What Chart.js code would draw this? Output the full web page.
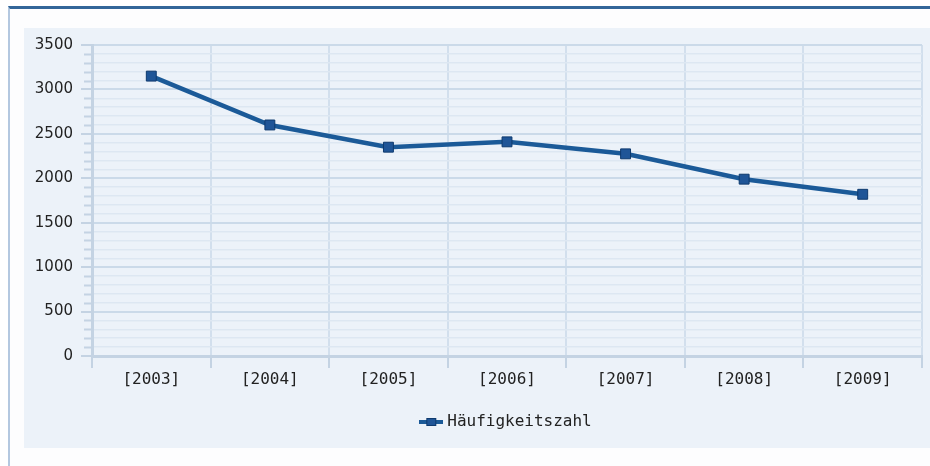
<!DOCTYPE html>
<html>
<head>
<meta charset="utf-8">
<script src="https://cdn.jsdelivr.net/npm/chart.js@4.4.1/dist/chart.umd.min.js"></script>
<style>
    body { margin: 0; background: #fff; width: 930px; height: 466px; overflow: hidden; position: relative; }
    #frame { position: absolute; left: 8px; top: 6px; width: 922px; height: 460px; border-top: 3px solid #336699; border-left: 2px solid #b4c8e0; box-sizing: border-box; background: #fdfdfe; }
    #panel { position: absolute; left: 24px; top: 28px; width: 906px; height: 420px; background: #ecf2f9; }
</style>
</head>
<body>
<div id="frame"></div>
<div id="panel"><canvas id="chart" width="906" height="420"></canvas></div>
<script>
const years = ['[2003]', '[2004]', '[2005]', '[2006]', '[2007]', '[2008]', '[2009]'];
const values = [3150, 2600, 2350, 2410, 2275, 1990, 1820];
const seriesName = 'Häufigkeitszahl';
const yMax = 3500;

const lineColor = '#1b5a98';
const ctx = document.getElementById('chart').getContext('2d');

// legend marker: short line with a square on it
const marker = document.createElement('canvas');
marker.width = 24;
marker.height = 10;
const m = marker.getContext('2d');
m.fillStyle = lineColor;
m.fillRect(0, 3, 24, 4);
m.fillStyle = '#1f5597';
m.strokeStyle = '#0e3a6e';
m.fillRect(7, 1, 10, 8);
m.strokeRect(7.5, 1.5, 9, 7);

// short ticks for the minor y values
const minorTicks = {
    id: 'minorTicks',
    afterDraw(chart) {
        const y = chart.scales.y;
        const c = chart.ctx;
        c.save();
        c.strokeStyle = '#c4d3e3';
        c.lineWidth = 2;
        y.ticks.forEach(t => {
            if (t.value % 500 === 0) return;
            const py = Math.round(y.getPixelForValue(t.value)) + 0.5;
            c.beginPath();
            c.moveTo(y.right - 8, py);
            c.lineTo(y.right, py);
            c.stroke();
        });
        c.restore();
    }
};

// legend is centred under the plot area, not the whole canvas
const legendShift = {
    id: 'legendShift',
    afterLayout(chart) {
        chart.legend.left += 66;
    }
};

new Chart(ctx, {
    type: 'line',
    data: {
        labels: years,
        datasets: [{
            label: seriesName,
            data: values,
            borderColor: lineColor,
            borderWidth: 4.5,
            tension: 0,
            pointStyle: 'rect',
            pointRadius: 7,
            pointBackgroundColor: '#1f5597',
            pointBorderColor: '#0e3a6e',
            pointBorderWidth: 1
        }]
    },
    options: {
        responsive: false,
        animation: false,
        layout: { padding: { left: 0, right: 5, top: 17, bottom: 8 } },
        plugins: {
            tooltip: { enabled: false },
            legend: {
                position: 'bottom',
                labels: {
                    usePointStyle: true,
                    pointStyle: marker,
                    color: '#222',
                    padding: 10,
                    font: { family: 'DejaVu Sans Mono', size: 16 }
                }
            }
        },
        scales: {
            x: {
                offset: true,
                grid: {
                    offset: true,
                    color: '#d2dfed',
                    lineWidth: 2,
                    tickLength: 12,
                    tickColor: '#c4d3e3'
                },
                border: { color: '#c4d3e3', width: 3 },
                ticks: {
                    color: '#222',
                    padding: 2,
                    font: { family: 'DejaVu Sans Mono', size: 16 }
                },
                afterFit: s => { s.height = 48; }
            },
            y: {
                min: 0,
                max: yMax,
                ticks: {
                    stepSize: 100,
                    autoSkip: false,
                    color: '#222',
                    padding: 8,
                    font: { family: 'DejaVu Sans', size: 15 },
                    callback: v => (v % 500 === 0 ? v : '')
                },
                grid: {
                    color: c => (c.tick && c.tick.value % 500 === 0 ? '#cbdae9' : '#dde7f2'),
                    lineWidth: c => (c.tick && c.tick.value % 500 === 0 ? 2 : 1.5),
                    tickLength: 11,
                    tickColor: c => (c.tick && c.tick.value % 500 === 0 ? '#c4d3e3' : 'rgba(0,0,0,0)')
                },
                border: { color: '#c4d3e3', width: 3 },
                afterFit: s => { s.width = 68; }
            }
        }
    },
    plugins: [minorTicks, legendShift]
});
</script>
</body>
</html>
